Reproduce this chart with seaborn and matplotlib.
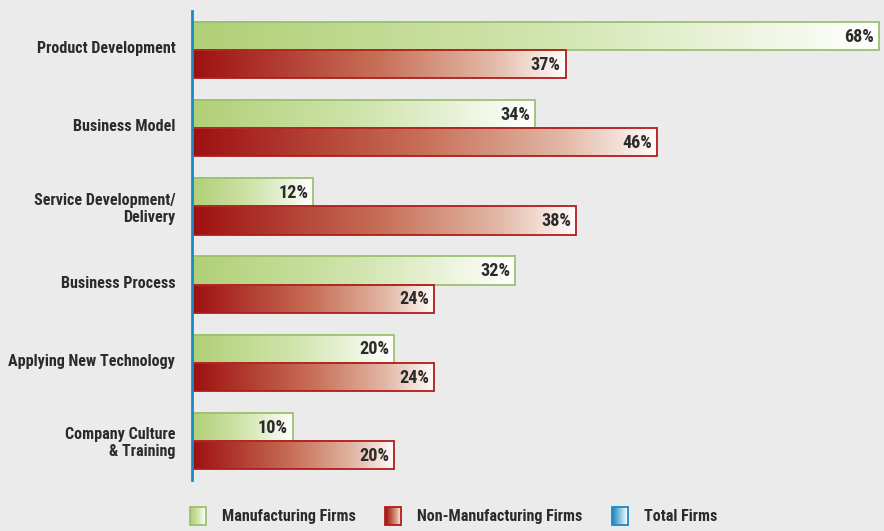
import numpy as np
import pandas as pd
import matplotlib
matplotlib.use("Agg")
import matplotlib.pyplot as plt
import seaborn as sns
from matplotlib import font_manager as fm
from matplotlib.patches import Rectangle, Patch
from matplotlib.colors import LinearSegmentedColormap
from matplotlib.legend_handler import HandlerBase
from matplotlib.transforms import ScaledTranslation

categories = [
    "Product Development",
    "Business Model",
    "Service Development/\nDelivery",
    "Business Process",
    "Applying New Technology",
    "Company Culture\n& Training",
]
manufacturing = [68, 34, 12, 32, 20, 10]
non_manufacturing = [37, 46, 38, 24, 24, 20]
series_names = ["Manufacturing Firms", "Non-Manufacturing Firms", "Total Firms"]

BG = "#ebebeb"
TEXT = "#2b2b2b"

# pick a narrow bold face if one is installed
names = {f.name for f in fm.fontManager.ttflist}
if "Liberation Sans Narrow" in names:
    FONT, STRETCH = "Liberation Sans Narrow", "normal"
elif "Roboto Condensed" in names:
    FONT, STRETCH = "Roboto Condensed", "normal"
elif "DejaVu Sans Condensed" in names:
    FONT, STRETCH = "DejaVu Sans Condensed", "normal"
else:
    FONT, STRETCH = "DejaVu Sans", "condensed"

green_cmap = LinearSegmentedColormap.from_list(
    "green", [(0, "#b0d076"), (0.5, "#d0e4ac"), (1, "#ffffff")])
red_cmap = LinearSegmentedColormap.from_list(
    "red", [(0, "#9e1010"), (0.5, "#c87058"), (0.8, "#e2b8a6"), (1, "#fffcfa")])
blue_cmap = LinearSegmentedColormap.from_list(
    "blue", [(0, "#1482be"), (1, "#ffffff")])
edges = {"Manufacturing Firms": "#9cc070",
         "Non-Manufacturing Firms": "#b01c1c",
         "Total Firms": "#1a8ac4"}
cmaps = {"Manufacturing Firms": green_cmap,
         "Non-Manufacturing Firms": red_cmap,
         "Total Firms": blue_cmap}

df = pd.DataFrame({
    "category": categories * 2,
    "value": manufacturing + non_manufacturing,
    "series": [series_names[0]] * len(categories) + [series_names[1]] * len(categories),
})

sns.set_theme(style="white")
plt.rcParams["font.family"] = [FONT, "DejaVu Sans"]
plt.rcParams["font.weight"] = "bold"
plt.rcParams["font.stretch"] = STRETCH

fig = plt.figure(figsize=(8.84, 5.31), dpi=100, facecolor=BG)
ax = fig.add_axes([192 / 884, 1 - 480 / 531, (884 - 192) / 884, 469 / 531])
ax.set_facecolor(BG)

sns.barplot(data=df, y="category", x="value", hue="series", orient="h",
            order=categories, hue_order=series_names[:2], width=0.72,
            palette=["#ffffff", "#ffffff"], legend=False, ax=ax,
            saturation=1, linewidth=0)

# size the text so the longest category line fits the left margin
probe = fig.text(0, 0, "Applying New Technology", fontsize=12, fontweight="bold",
                 fontstretch=STRETCH)
fig.canvas.draw()
w_px = probe.get_window_extent().width
probe.remove()
FS = min(13.0, 12.0 * 168.0 / w_px)
VS = FS * 1.12

grad = np.linspace(0, 1, 256).reshape(1, -1)
n = len(categories)
for i, patch in enumerate(list(ax.patches)):
    name = series_names[0] if i < n else series_names[1]
    x0, y0 = patch.get_x(), patch.get_y()
    w, h = patch.get_width(), patch.get_height()
    ax.imshow(grad, cmap=cmaps[name], aspect="auto",
              extent=(x0, x0 + w, y0 + h, y0), zorder=2, interpolation="bilinear")
    ax.add_patch(Rectangle((x0, y0), w, h, fill=False, edgecolor=edges[name],
                           linewidth=1.3, zorder=3))
    ax.text(x0 + w - 0.5, y0 + h / 2 + 0.01, f"{int(round(w))}%", ha="right",
            va="center", fontsize=VS, fontweight="bold", fontstretch=STRETCH,
            color=TEXT, zorder=4)

ax.set_xlim(0, 68.5)
ax.set_ylim(5.5, -0.5)
ax.set_xlabel("")
ax.set_ylabel("")
ax.set_xticks([])
ax.set_yticks(range(n))
ax.set_yticklabels(categories, fontsize=FS, fontweight="bold", fontstretch=STRETCH,
                   color=TEXT, linespacing=1.15)
ax.tick_params(axis="y", length=0, pad=12)
# single-line labels sit slightly above the group centre
for lab in ax.get_yticklabels():
    if "\n" not in lab.get_text():
        lab.set_transform(lab.get_transform() + ScaledTranslation(0, 3 / 100, fig.dpi_scale_trans))
for s in ["top", "right", "bottom"]:
    ax.spines[s].set_visible(False)
ax.spines["left"].set_color("#1a8ac4")
ax.spines["left"].set_linewidth(2)
ax.spines["left"].set_zorder(5)


class GradientHandler(HandlerBase):
    def __init__(self, cmap, edge):
        super().__init__()
        self.cmap = cmap
        self.edge = edge

    def create_artists(self, legend, orig_handle, xdescent, ydescent,
                       width, height, fontsize, trans):
        steps = 40
        artists = []
        for k in range(steps):
            artists.append(Rectangle((-xdescent + width * k / steps, -ydescent),
                                     width / steps * 1.05, height,
                                     facecolor=self.cmap(k / (steps - 1)),
                                     edgecolor="none", transform=trans))
        artists.append(Rectangle((-xdescent, -ydescent), width, height,
                                 fill=False, edgecolor=self.edge, linewidth=1.3,
                                 transform=trans))
        return artists


handles = [Patch(label=nm) for nm in series_names]
handler_map = {h: GradientHandler(cmaps[nm], edges[nm]) for h, nm in zip(handles, series_names)}
fig.legend(handles=handles, labels=series_names, handler_map=handler_map,
           loc="center left", bbox_to_anchor=(190 / 884, 1 - 516 / 531),
           ncol=3, frameon=False, borderpad=0, borderaxespad=0,
           handlelength=16 / (FS * 100 / 72), handleheight=22 / (FS * 100 / 72),
           handletextpad=1.0, columnspacing=1.8,
           prop={"size": FS, "weight": "bold", "stretch": STRETCH},
           labelcolor=TEXT)

fig.savefig("out.png", dpi=100, facecolor=BG)
